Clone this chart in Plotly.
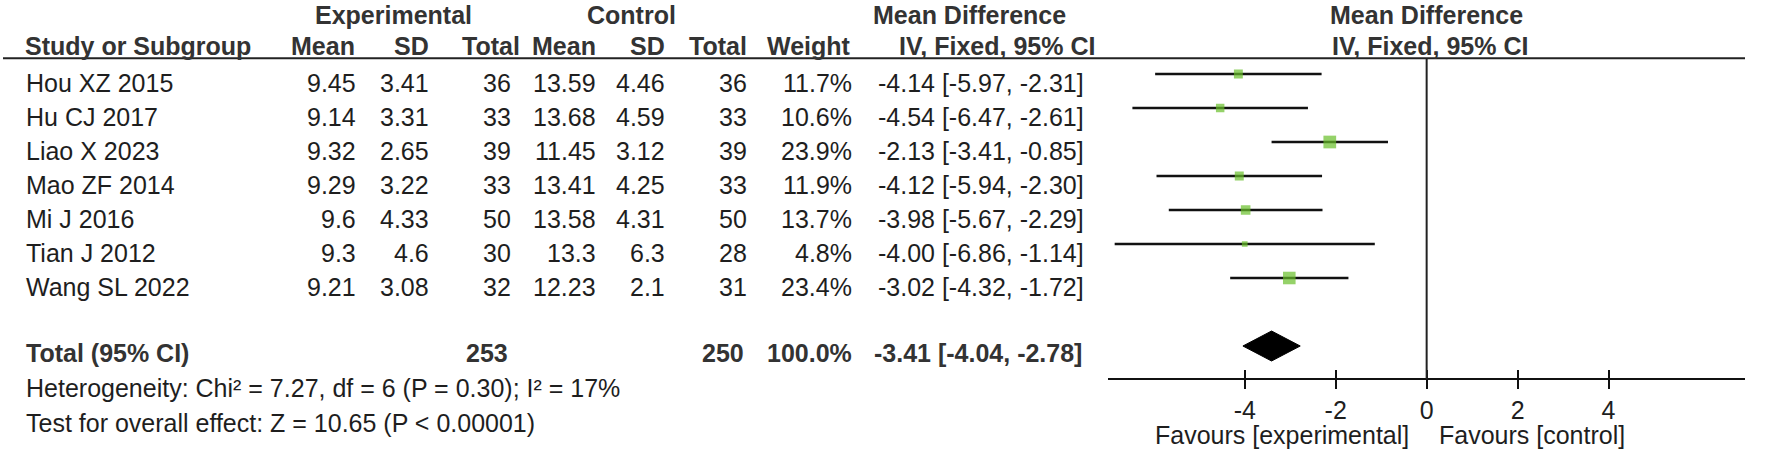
import plotly.graph_objects as go

# ---------------- data ----------------
studies = ["Hou XZ 2015", "Hu CJ 2017", "Liao X 2023", "Mao ZF 2014",
           "Mi J 2016", "Tian J 2012", "Wang SL 2022"]
exp_mean = [9.45, 9.14, 9.32, 9.29, 9.6, 9.3, 9.21]
exp_sd = [3.41, 3.31, 2.65, 3.22, 4.33, 4.6, 3.08]
exp_n = [36, 33, 39, 33, 50, 30, 32]
ctl_mean = [13.59, 13.68, 11.45, 13.41, 13.58, 13.3, 12.23]
ctl_sd = [4.46, 4.59, 3.12, 4.25, 4.31, 6.3, 2.1]
ctl_n = [36, 33, 39, 33, 50, 28, 31]
weight = [11.7, 10.6, 23.9, 11.9, 13.7, 4.8, 23.4]
md = [-4.14, -4.54, -2.13, -4.12, -3.98, -4.00, -3.02]
ci_lo = [-5.97, -6.47, -3.41, -5.94, -5.67, -6.86, -4.32]
ci_hi = [-2.31, -2.61, -0.85, -2.30, -2.29, -1.14, -1.72]

total_exp_n = 253
total_ctl_n = 250
total_weight = 100.0
total_md = -3.41
total_lo = -4.04
total_hi = -2.78

heterogeneity = "Heterogeneity: Chi² = 7.27, df = 6 (P = 0.30); I² = 17%"
overall = "Test for overall effect: Z = 10.65 (P < 0.00001)"

tick_vals = [-4, -2, 0, 2, 4]
tick_text = ["-4", "-2", "0", "2", "4"]
x_range = [-7, 7]

# ---------------- geometry / style ----------------
W, H = 1772, 453
FONT = "Liberation Sans, Arial, sans-serif"
FS = 25
TXT = "#1e1e1e"
BOLD = "#333333"
GREEN = "#68BF2A"

ROW0, STEP = 74, 34          # pixel y of first study's CI line, row spacing
AXIS_Y = 379.3               # pixel y of the x axis line
HEADER_LINE_Y = 58.3


def px(x):
    return x / W


def py(y):
    return 1 - y / H


y_top = -ROW0 / STEP
y_bot = (H - ROW0) / STEP

rows = list(range(len(studies)))
total_row = len(studies) + 1

fig = go.Figure()

# CI lines
xs, ys = [], []
for i, lo, hi in zip(rows, ci_lo, ci_hi):
    xs += [lo, hi, None]
    ys += [i, i, None]
fig.add_trace(go.Scatter(x=xs, y=ys, mode="lines",
                         line=dict(color="#111111", width=2.5),
                         hoverinfo="skip", showlegend=False))

# squares sized by weight
fig.add_trace(go.Scatter(
    x=md, y=rows, mode="markers",
    marker=dict(symbol="square", color=GREEN,
                size=[2.6 * w ** 0.5 for w in weight],
                line=dict(width=0)),
    hoverinfo="skip", showlegend=False))

# diamond for total
half_h = 15 / STEP
fig.add_trace(go.Scatter(
    x=[total_lo, total_md, total_hi, total_md, total_lo],
    y=[total_row, total_row - half_h, total_row, total_row + half_h, total_row],
    mode="lines", fill="toself", fillcolor="#000000",
    line=dict(color="#000000", width=1),
    hoverinfo="skip", showlegend=False))

# invisible trace to materialise the overlay axis (upper half of ticks)
fig.add_trace(go.Scatter(x=[0], y=[0], xaxis="x2", mode="markers",
                         marker=dict(opacity=0), hoverinfo="skip",
                         showlegend=False))

ann = []


def text(x, y, s, xanchor="left", bold=False, yref="paper", yshift=0,
         size=FS):
    ann.append(dict(
        x=px(x), xref="paper", y=y, yref=yref, yshift=yshift,
        text=f"<b>{s}</b>" if bold else s, showarrow=False,
        xanchor=xanchor, yanchor="middle",
        font=dict(family=FONT, size=size, color=BOLD if bold else TXT)))


# headers
H1, H2 = py(15), py(46.5)
text(393, H1, "Experimental", "center", True)
text(631, H1, "Control", "center", True)
text(970, H1, "Mean Difference", "center", True)
text(1426, H1, "Mean Difference", "center", True)
text(23, H2, "Study or Subgroup", "left", True)
text(357, H2, "Mean", "right", True)
text(431, H2, "SD", "right", True)
text(522, H2, "Total", "right", True)
text(598, H2, "Mean", "right", True)
text(667, H2, "SD", "right", True)
text(749, H2, "Total", "right", True)
text(853, H2, "Weight", "right", True)
text(997, H2, "IV, Fixed, 95% CI", "center", True)
text(1430, H2, "IV, Fixed, 95% CI", "center", True)

# study rows
SHIFT = -9
for i in rows:
    text(24, i, studies[i], "left", yref="y", yshift=SHIFT)
    text(357.5, i, f"{exp_mean[i]:g}", "right", yref="y", yshift=SHIFT)
    text(431, i, f"{exp_sd[i]:g}", "right", yref="y", yshift=SHIFT)
    text(513, i, f"{exp_n[i]}", "right", yref="y", yshift=SHIFT)
    text(598, i, f"{ctl_mean[i]:g}", "right", yref="y", yshift=SHIFT)
    text(667, i, f"{ctl_sd[i]:g}", "right", yref="y", yshift=SHIFT)
    text(749, i, f"{ctl_n[i]}", "right", yref="y", yshift=SHIFT)
    text(853.5, i, f"{weight[i]:.1f}%", "right", yref="y", yshift=SHIFT)
    text(1086, i, f"{md[i]:.2f} [{ci_lo[i]:.2f}, {ci_hi[i]:.2f}]", "right",
         yref="y", yshift=SHIFT)

# total row
text(24, total_row, "Total (95% CI)", "left", True, yref="y", yshift=-7)
text(510, total_row, f"{total_exp_n}", "right", True, yref="y", yshift=-7)
text(746, total_row, f"{total_ctl_n}", "right", True, yref="y", yshift=-7)
text(854, total_row, f"{total_weight:.1f}%", "right", True, yref="y", yshift=-7)
text(1084, total_row, f"{total_md:.2f} [{total_lo:.2f}, {total_hi:.2f}]",
     "right", True, yref="y", yshift=-7)

# footers
text(24, py(388), heterogeneity, "left")
text(24, py(422.5), overall, "left")

# favours labels
text(1411, py(435), "Favours [experimental]", "right")
text(1437, py(435), "Favours [control]", "left")

shapes = [
    # header underline
    dict(type="line", xref="paper", yref="paper", x0=px(3), x1=px(1745),
         y0=py(HEADER_LINE_Y), y1=py(HEADER_LINE_Y),
         line=dict(color="#222222", width=2)),
    # line of no effect
    dict(type="line", xref="x", yref="paper", x0=0, x1=0,
         y0=py(AXIS_Y), y1=py(HEADER_LINE_Y),
         line=dict(color="#222222", width=2)),
]

dom = [px(1108.3), px(1745)]
fig.update_layout(
    width=W, height=H, autosize=False,
    margin=dict(l=0, r=0, t=0, b=0, pad=0),
    paper_bgcolor="white", plot_bgcolor="white",
    showlegend=False,
    annotations=ann, shapes=shapes,
    xaxis=dict(domain=dom, range=x_range, anchor="free",
               position=py(AXIS_Y), showline=True, linecolor="#111111",
               linewidth=2, ticks="outside", ticklen=9, tickwidth=2,
               tickcolor="#111111", tickmode="array", tickvals=tick_vals,
               ticktext=tick_text,
               tickfont=dict(family=FONT, size=FS, color=TXT),
               showgrid=False, zeroline=False, fixedrange=True),
    xaxis2=dict(overlaying="x", range=x_range, anchor="free",
                position=py(AXIS_Y), showline=False, ticks="inside",
                ticklen=9, tickwidth=2, tickcolor="#111111",
                tickmode="array", tickvals=tick_vals,
                showticklabels=False, showgrid=False, zeroline=False,
                fixedrange=True),
    yaxis=dict(domain=[0, 1], range=[y_bot, y_top], visible=False,
               showgrid=False, zeroline=False, fixedrange=True),
)

fig.write_html("out.html",
               config={"displayModeBar": False},
               post_script="document.body.style.margin='0';"
                           "document.body.style.overflow='hidden';")
